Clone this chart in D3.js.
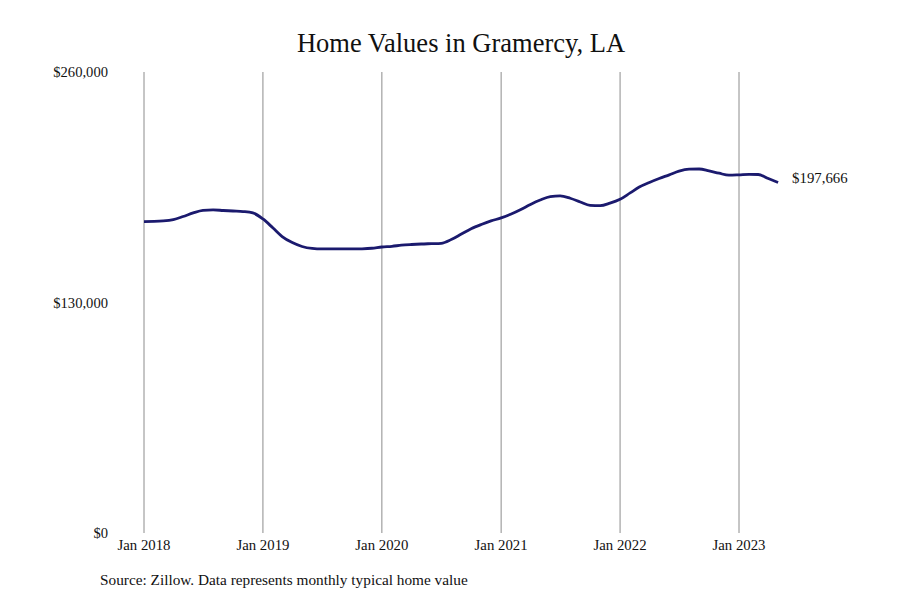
<!DOCTYPE html>
<html><head><meta charset="utf-8">
<script src="https://cdn.jsdelivr.net/npm/d3@7"></script>
<style>
body{margin:0;background:#fff;}
text{font-family:"Liberation Serif","DejaVu Serif",serif;fill:#111;}
</style></head>
<body><svg id="c" width="900" height="600"></svg>
<script>
const title = "Home Values in Gramercy, LA";
const source = "Source: Zillow. Data represents monthly typical home value";
const startYear = 2018, startMonth = 0;
const values = [
175600,175700,176000,176800,178500,180500,181900,182200,181900,181600,181300,180500,
177100,172000,167200,163800,161600,160500,160200,160200,160200,160200,160300,160600,
161300,161700,162300,162700,163000,163200,163400,165500,168600,171600,174000,176000,
177700,179900,182300,185300,187800,189700,190100,188800,186700,184800,184600,186000,
188200,191800,195100,197700,199900,202000,204100,205200,205300,204200,202900,201800,
202000,202300,202200,199900,197666];
const yTicks = [0,130000,260000];
const xTickYears = [2018,2019,2020,2021,2022,2023];

const data = values.map((v,i)=>({date:new Date(startYear, startMonth+i, 1), value:v}));
const svg = d3.select("#c");
const x = d3.scaleTime().domain([new Date(2018,0,1), new Date(2023,0,1)]).range([144,739]);
const y = d3.scaleLinear().domain([0,260000]).range([533,72]);

svg.append("text").attr("x",461).attr("y",52).attr("text-anchor","middle")
  .style("font-size","26.5px").text(title);

// vertical grid
svg.append("g").selectAll("line").data(xTickYears).join("line")
  .attr("x1",d=>x(new Date(d,0,1))).attr("x2",d=>x(new Date(d,0,1)))
  .attr("y1",72).attr("y2",533).attr("stroke","#8c8c8c").attr("stroke-width",1);

// x labels
svg.append("g").selectAll("text").data(xTickYears).join("text")
  .attr("x",d=>x(new Date(d,0,1))).attr("y",550).attr("text-anchor","middle")
  .style("font-size","14.8px").text(d=>"Jan "+d);

// y labels
const fmt = d3.format("$,");
svg.append("g").selectAll("text").data(yTicks).join("text")
  .attr("x",108).attr("y",d=>y(d)).attr("dy","0.35em").attr("text-anchor","end")
  .style("font-size","14.6px").text(d=>fmt(d));

const line = d3.line().x(d=>x(d.date)).y(d=>y(d.value)).curve(d3.curveMonotoneX);
svg.append("path").datum(data).attr("d",line).attr("fill","none")
  .attr("stroke","#1b1a6e").attr("stroke-width",2.8).attr("stroke-linejoin","round");

const last = data[data.length-1];
svg.append("text").attr("x",x(last.date)+14).attr("y",y(last.value)-5).attr("dy","0.35em")
  .style("font-size","14.8px").text(fmt(last.value));

svg.append("text").attr("x",100).attr("y",585).style("font-size","15.3px").text(source);
</script></body></html>
